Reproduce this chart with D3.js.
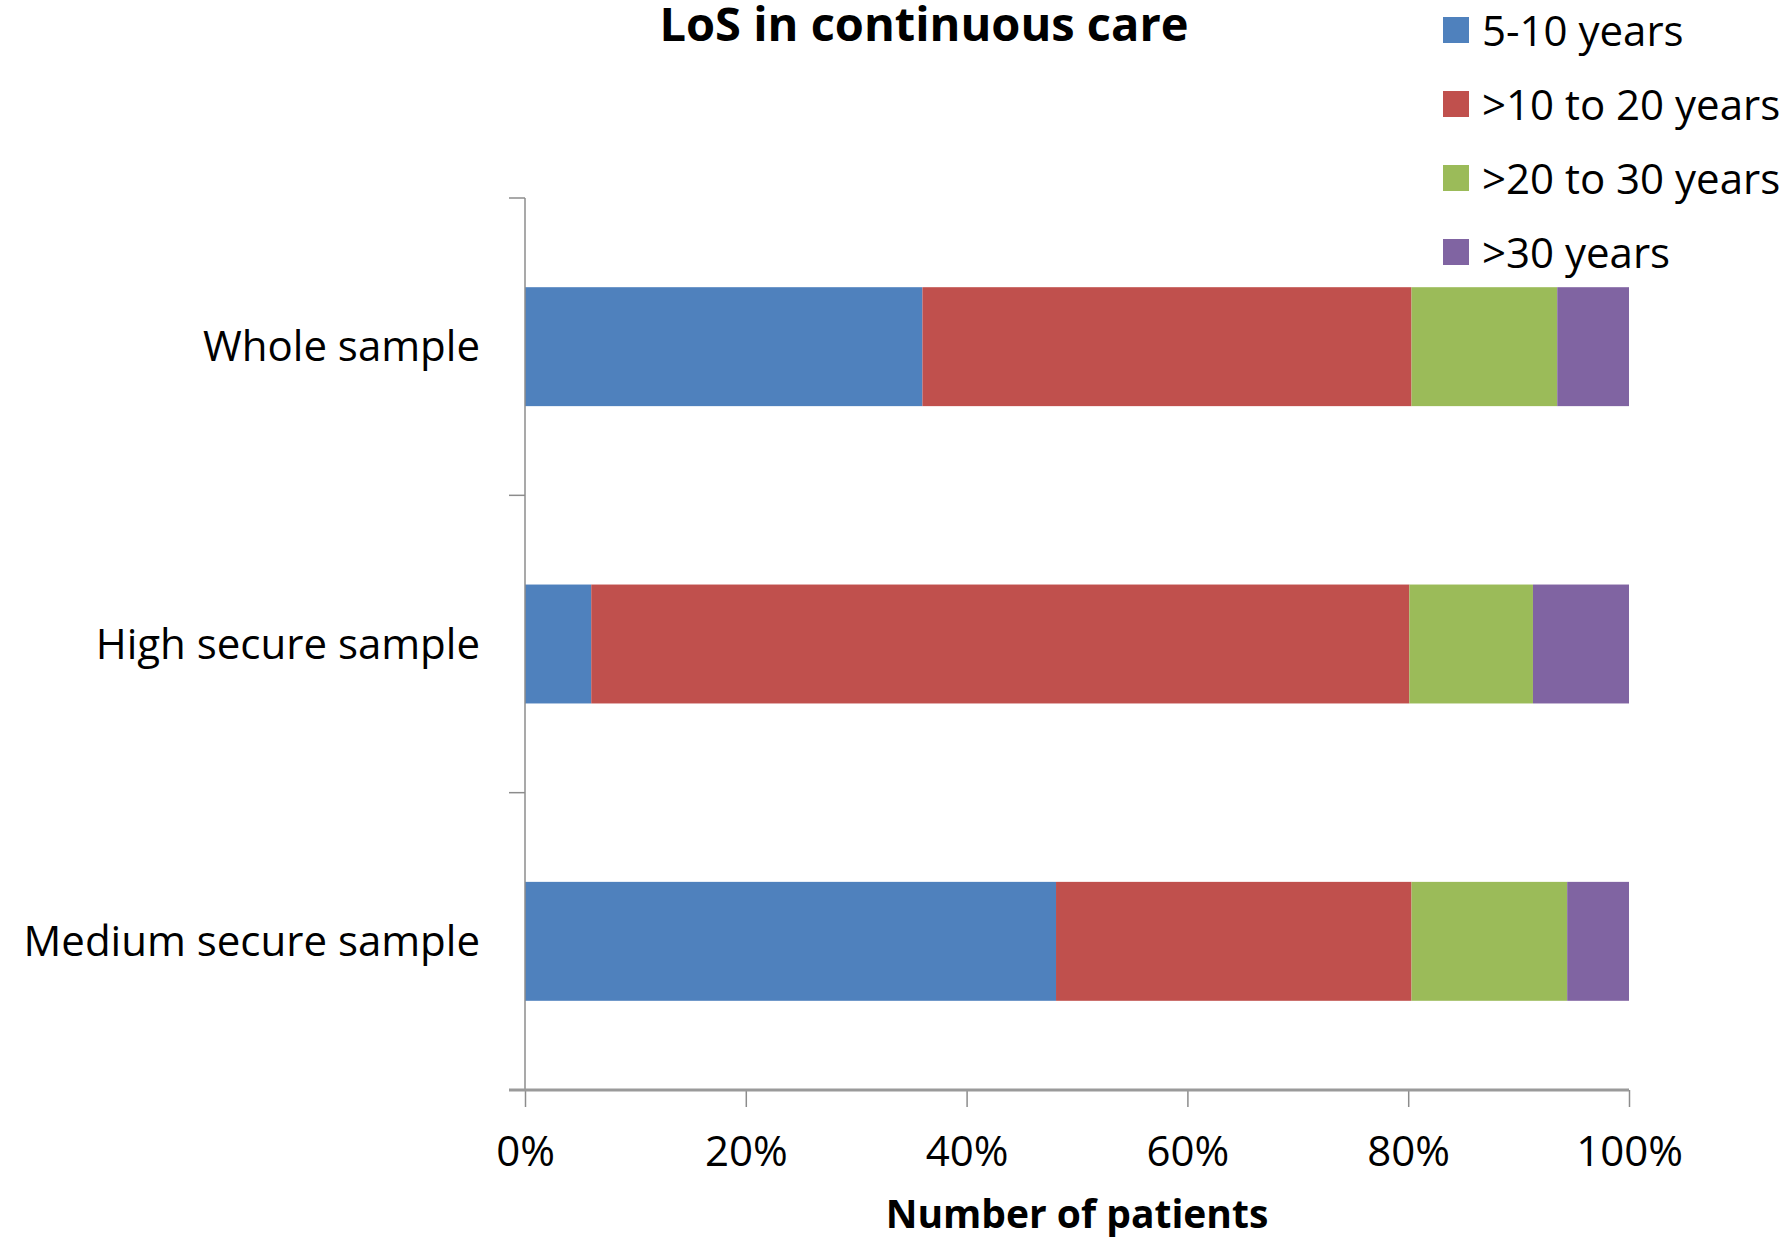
<!DOCTYPE html>
<html>
<head>
<meta charset="utf-8">
<script src="https://cdn.jsdelivr.net/npm/d3@7"></script>
<style>
  html, body { margin: 0; padding: 0; background: #ffffff; }
  svg { display: block; }
  text { font-family: "Open Sans", "Noto Sans", sans-serif; fill: #000; }
</style>
</head>
<body>
<svg id="chart" width="1785" height="1241"></svg>
<script>
// Length of stay in continuous care, share of patients per band (%)
const categories = ["Whole sample", "High secure sample", "Medium secure sample"];
const seriesNames = ["5-10 years", ">10 to 20 years", ">20 to 30 years", ">30 years"];
const years5to10   = [36.0, 6.0, 48.1];
const years10to20  = [44.3, 74.1, 32.2];
const years20to30  = [13.2, 11.2, 14.1];
const yearsOver30  = [6.5, 8.7, 5.6];
const seriesColors = ["#4F81BD", "#C0504D", "#9BBB59", "#8064A2"];
const xTicks = [0, 20, 40, 60, 80, 100];
const chartTitle = "LoS in continuous care";
const xTitle = "Number of patients";

const seriesValues = [years5to10, years10to20, years20to30, yearsOver30];
const rows = categories.map((c, i) => {
  const r = { category: c };
  seriesNames.forEach((s, j) => { r[s] = seriesValues[j][i]; });
  return r;
});

const svg = d3.select("#chart");
const plot = { left: 525, right: 1629, top: 198, bottom: 1090 };

const x = d3.scaleLinear().domain([0, 100]).range([plot.left, plot.right]);
const y = d3.scaleBand().domain(categories)
  .range([plot.top, plot.bottom])
  .paddingInner(0.6).paddingOuter(0.3);
const color = d3.scaleOrdinal().domain(seriesNames).range(seriesColors);

const stacked = d3.stack().keys(seriesNames)(rows);

// Bars
svg.append("g").selectAll("g")
  .data(stacked)
  .join("g")
  .attr("fill", d => color(d.key))
  .selectAll("rect")
  .data(d => d)
  .join("rect")
  .attr("x", d => x(d[0]))
  .attr("y", d => y(d.data.category))
  .attr("width", d => x(d[1]) - x(d[0]))
  .attr("height", y.bandwidth());

// Vertical (category) axis with ticks between categories
const axisColor = "#8c8c8c";
svg.append("line")
  .attr("x1", plot.left).attr("x2", plot.left)
  .attr("y1", plot.top).attr("y2", plot.bottom)
  .attr("stroke", axisColor).attr("stroke-width", 1.5);
const boundaries = d3.range(categories.length + 1).map(i => plot.top + i * y.step());
svg.append("g").selectAll("line")
  .data(boundaries)
  .join("line")
  .attr("x1", plot.left - 16).attr("x2", plot.left)
  .attr("y1", d => d).attr("y2", d => d)
  .attr("stroke", axisColor).attr("stroke-width", 1.5);

svg.append("g").selectAll("text")
  .data(categories)
  .join("text")
  .attr("x", plot.left - 45)
  .attr("y", d => y(d) + y.bandwidth() / 2 - 2)
  .attr("text-anchor", "end")
  .attr("dominant-baseline", "central")
  .style("font-size", "42px")
  .text(d => d);

// Horizontal (percentage) axis
const xAxis = d3.axisBottom(x)
  .tickValues(xTicks)
  .tickFormat(d => d + "%")
  .tickSizeInner(17)
  .tickSizeOuter(0)
  .tickPadding(29);
const gx = svg.append("g")
  .attr("transform", `translate(0,${plot.bottom})`)
  .call(xAxis);
gx.select(".domain").remove();
gx.selectAll(".tick line").attr("stroke", axisColor).attr("stroke-width", 1.5);
gx.selectAll(".tick text")
  .style("font-size", "42px")
  .style("font-family", "'Open Sans', 'Noto Sans', sans-serif")
  .attr("fill", "#000");
svg.append("line")
  .attr("x1", plot.left - 16).attr("x2", plot.right)
  .attr("y1", plot.bottom).attr("y2", plot.bottom)
  .attr("stroke", "#9a9a9a").attr("stroke-width", 3);

// Titles
svg.append("text")
  .attr("x", 924).attr("y", 41)
  .attr("text-anchor", "middle")
  .style("font-size", "47px").style("font-weight", "bold")
  .text(chartTitle);

svg.append("text")
  .attr("x", (plot.left + plot.right) / 2).attr("y", 1228)
  .attr("text-anchor", "middle")
  .style("font-size", "39px").style("font-weight", "bold")
  .text(xTitle);

// Legend
const legend = svg.append("g").attr("transform", "translate(1443,30)");
const item = legend.selectAll("g")
  .data(seriesNames)
  .join("g")
  .attr("transform", (d, i) => `translate(0,${i * 74})`);
item.append("rect")
  .attr("x", 0).attr("y", -13)
  .attr("width", 26).attr("height", 26)
  .attr("fill", d => color(d));
item.append("text")
  .attr("x", 39).attr("y", -1)
  .attr("dominant-baseline", "central")
  .style("font-size", "42px")
  .text(d => d);
</script>
</body>
</html>
